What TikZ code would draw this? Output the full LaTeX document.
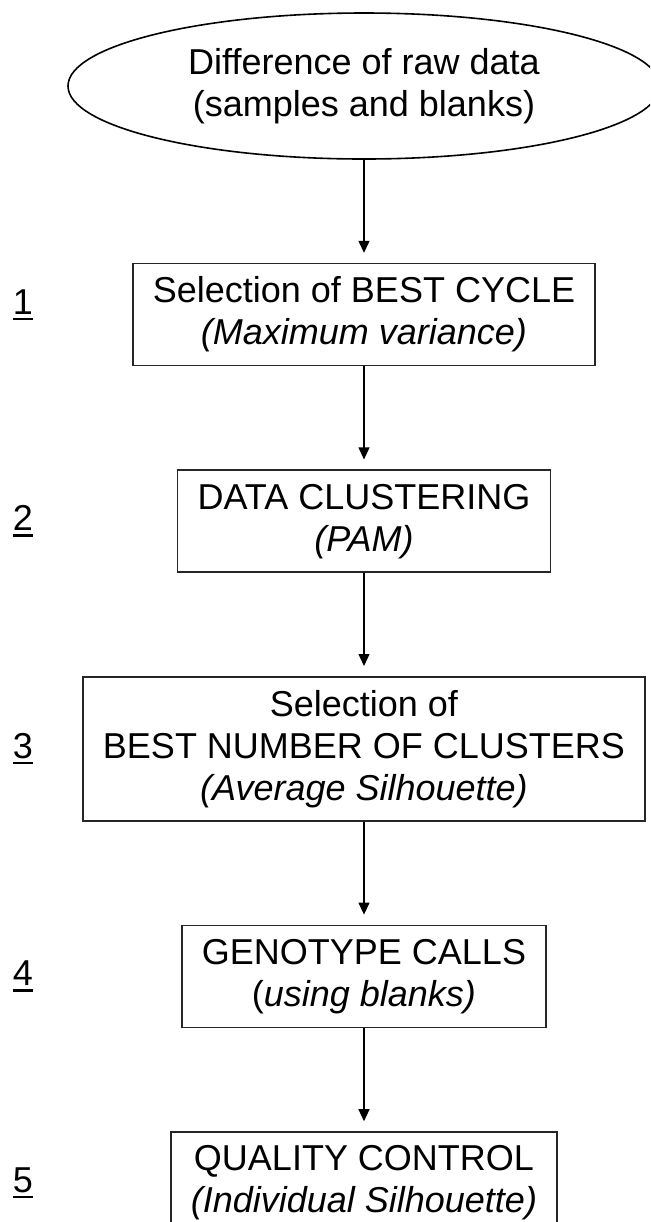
\documentclass[tikz,border=0pt]{standalone}
\usepackage{fontspec}
\setmainfont{Liberation Sans}
\usetikzlibrary{
    arrows.meta,
    positioning,
    shapes.geometric
}
\newcommand{\stepnr}[1]{\vtop{\hbox{#1}\kern1.8pt\hrule height 1.1pt}}

\begin{document}
\begin{tikzpicture}[
  x=0.5pt, y=-0.5pt,
  node distance = 51.5pt,
  >={Triangle[length=6pt, width=5.5pt]},
  every node/.style = {font=\fontsize{18pt}{21pt}\selectfont},
  source/.style  = {ellipse, draw, line width=0.8pt, align=center,
                    minimum width=296pt, minimum height=73pt, inner sep=0pt},
  stepbox/.style = {rectangle, draw=black!85, line width=0.8pt, align=center,
                    inner xsep=10pt, inner ysep=3pt, minimum height=51pt},
  stepnum/.style = {inner sep=0pt},
  flow/.style    = {->, line width=0.6pt, shorten >=5pt}
]
\useasboundingbox (0,0) rectangle (650,1222);
\clip (0,0) rectangle (650,1222);

% Nodes
\node[source] (raw) at (364,86) {Difference of raw data\\(samples and blanks)};
\node[stepbox, below=of raw] (cycle) {Selection of BEST CYCLE\\\textit{(Maximum variance)}};
\node[stepbox, below=of cycle] (clust) {DATA CLUSTERING\\\textit{(PAM)}};
\node[stepbox, below=of clust, minimum height=72pt] (best) {Selection of\\BEST NUMBER OF CLUSTERS\\\textit{(Average Silhouette)}};
\node[stepbox, below=of best] (calls) {GENOTYPE CALLS\\(\textit{using blanks)}};
\node[stepbox, below=of calls] (qc) {QUALITY CONTROL\\\textit{(Individual Silhouette)}};

% Step numbers
\node[stepnum, yshift=5pt] (n1) at (23,0 |- cycle) {\stepnr{1}};
\node[stepnum] (n2) at (23,0 |- clust) {\stepnr{2}};
\node[stepnum] (n3) at (23,0 |- best)  {\stepnr{3}};
\node[stepnum] (n4) at (23,0 |- calls) {\stepnr{4}};
\node[stepnum] (n5) at (23,0 |- qc)    {\stepnr{5}};

% Arrows
\draw[flow] (raw) -- (cycle);
\draw[flow] (cycle) -- (clust);
\draw[flow] (clust) -- (best);
\draw[flow] (best) -- (calls);
\draw[flow] (calls) -- (qc);

\end{tikzpicture}
\end{document}
